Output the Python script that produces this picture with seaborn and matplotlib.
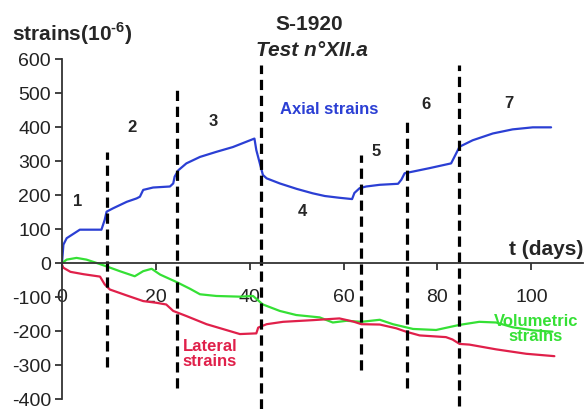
import matplotlib
matplotlib.use("Agg")
import matplotlib.pyplot as plt
import seaborn as sns

# strain records (t in days, strains in 1e-6)
axial_t = [0, 0.3, 1, 3.8, 6, 8.4, 9.1, 9.5, 10.9, 13.8, 15.9, 16.6, 17.3, 19.4, 23, 23.7,
           24, 24.8, 26.5, 29.4, 32.9, 36.4, 41, 41.4, 42.8, 43.6, 46.4, 50, 53.4, 56, 59,
           61.8, 62.3, 63.4, 64.8, 67.7, 71.6, 72.3, 73, 74.8, 78.3, 82.9, 83.6, 84.7, 87.5,
           91.8, 96, 100.3, 104.2]
axial_v = [0, 54, 73, 98, 98, 98, 127, 151, 161, 180, 190, 195, 215, 222, 225, 234,
           254, 273, 293, 312, 327, 341, 366, 332, 259, 249, 234, 218, 205, 197, 192,
           188, 206, 220, 225, 230, 233, 245, 264, 269, 279, 293, 312, 342, 361,
           381, 393, 399, 399]

vol_t = [0, 1, 3.1, 5.2, 7.4, 9.5, 12.3, 15.5, 17.3, 19.1, 20.9, 24.4, 27.3, 29.4, 32.9,
         37.9, 40.7, 42.8, 46.4, 49.9, 54.9, 57.7, 60.6, 63.8, 67.7, 70.5, 74.8, 79.7,
         84.7, 88.9, 92.5, 96, 100.3, 104.5]
vol_v = [0, 10, 15, 10, 0, -10, -24, -39, -24, -17, -34, -56, -76, -92, -97,
         -99, -97, -122, -141, -153, -160, -175, -170, -173, -167, -180, -194, -197,
         -182, -173, -175, -189, -198, -202]

lat_t = [0, 0.3, 1.8, 4.6, 8.1, 9.1, 10.2, 13.7, 17.3, 20.1, 22.2, 23.7, 26.5, 30.8, 37.9,
         41.4, 41.8, 43.6, 47.1, 53.5, 59.1, 62, 63.8, 67.7, 71.2, 73.3, 76.2, 81.8, 83.2,
         84.7, 86.8, 92.5, 98.9, 104.9]
lat_v = [-5, -14, -26, -33, -40, -63, -78, -95, -112, -117, -122, -141, -156, -180, -209,
         -207, -190, -180, -173, -168, -163, -172, -180, -181, -192, -202, -213, -218, -225,
         -238, -240, -254, -267, -274]

# loading stage boundaries: day, top and bottom of the dashed marker
stage_t = [9.6, 24.5, 42.3, 63.8, 73.4, 84.5]
stage_top = [327, 509, 582, 319, 430, 582]
stage_bottom = [-307, -368, -430, -316, -368, -420]
stage_labels = ["1", "2", "3", "4", "5", "6", "7"]
stage_label_t = [3.4, 15, 32.3, 51.3, 67, 77.6, 95.3]
stage_label_v = [182, 400, 415, 152, 327, 465, 468]

sns.set_theme(style="ticks")
plt.rcParams["font.family"] = ["Liberation Sans", "DejaVu Sans"]
plt.rcParams["axes.unicode_minus"] = False
plt.rcParams["mathtext.fontset"] = "custom"
plt.rcParams["mathtext.bf"] = "Liberation Sans:bold"
plt.rcParams["mathtext.rm"] = "Liberation Sans:bold"

fig = plt.figure(figsize=(5.86, 4.09), dpi=100)
ax = fig.add_axes([62 / 586, 10 / 409, 521 / 586, 340 / 409])

blue, red, green = "#2b3fd4", "#e0204a", "#35e035"
sns.lineplot(x=axial_t, y=axial_v, ax=ax, color=blue, lw=1.6, sort=False)
sns.lineplot(x=vol_t, y=vol_v, ax=ax, color=green, lw=1.6, sort=False)
sns.lineplot(x=lat_t, y=lat_v, ax=ax, color=red, lw=1.6, sort=False)

for t, top, bot in zip(stage_t, stage_top, stage_bottom):
    ax.plot([t, t], [bot, top], color="black", lw=2.3, ls=(0, (3.2, 1.8)), clip_on=False)

for lab, t, v in zip(stage_labels, stage_label_t, stage_label_v):
    ax.text(t, v, lab, fontsize=12, fontweight="bold", ha="center", va="center")

ax.text(57, 450, "Axial strains", color=blue, fontsize=12, fontweight="bold",
        ha="center", va="center")
ax.text(25.7, -268, "Lateral\nstrains", color=red, fontsize=12, fontweight="bold",
        ha="left", va="center", linespacing=1.0)
ax.text(101, -193, "Volumetric\nstrains", color=green, fontsize=12, fontweight="bold",
        ha="center", va="center", linespacing=1.0)
ax.text(111, 12, "t (days)", fontsize=15, fontweight="bold", ha="right", va="bottom")

ax.set_xlim(0, 111)
ax.set_ylim(-400, 600)
ax.set_xticks([0, 20, 40, 60, 80, 100])
ax.set_yticks(range(-400, 601, 100))
ax.spines["bottom"].set_position(("data", 0))
ax.spines["top"].set_visible(False)
ax.spines["right"].set_visible(False)
for s in ["left", "bottom"]:
    ax.spines[s].set_color("#333333")
    ax.spines[s].set_linewidth(1.3)
ax.tick_params(axis="x", direction="out", length=5, width=1.3, color="#333333",
               labelsize=14, pad=14, labelcolor="#222222")
ax.tick_params(axis="y", direction="out", length=5, width=1.3, color="#333333",
               labelsize=14, pad=3, labelcolor="#222222")
ax.set_xlabel("")
ax.set_ylabel("")
ax.patch.set_alpha(0)

fig.text(12 / 586, 1 - 41 / 409, r"strains(10$^{\text{-}6}$)", fontsize=15,
         fontweight="bold", ha="left", va="baseline")
fig.text(309 / 586, 1 - 24 / 409, "S-1920", fontsize=15, fontweight="bold",
         ha="center", va="center")
fig.text(312 / 586, 1 - 50 / 409, "Test n°XII.a", fontsize=15, fontweight="bold",
         fontstyle="italic", ha="center", va="center")

fig.savefig("out.png", dpi=100)
